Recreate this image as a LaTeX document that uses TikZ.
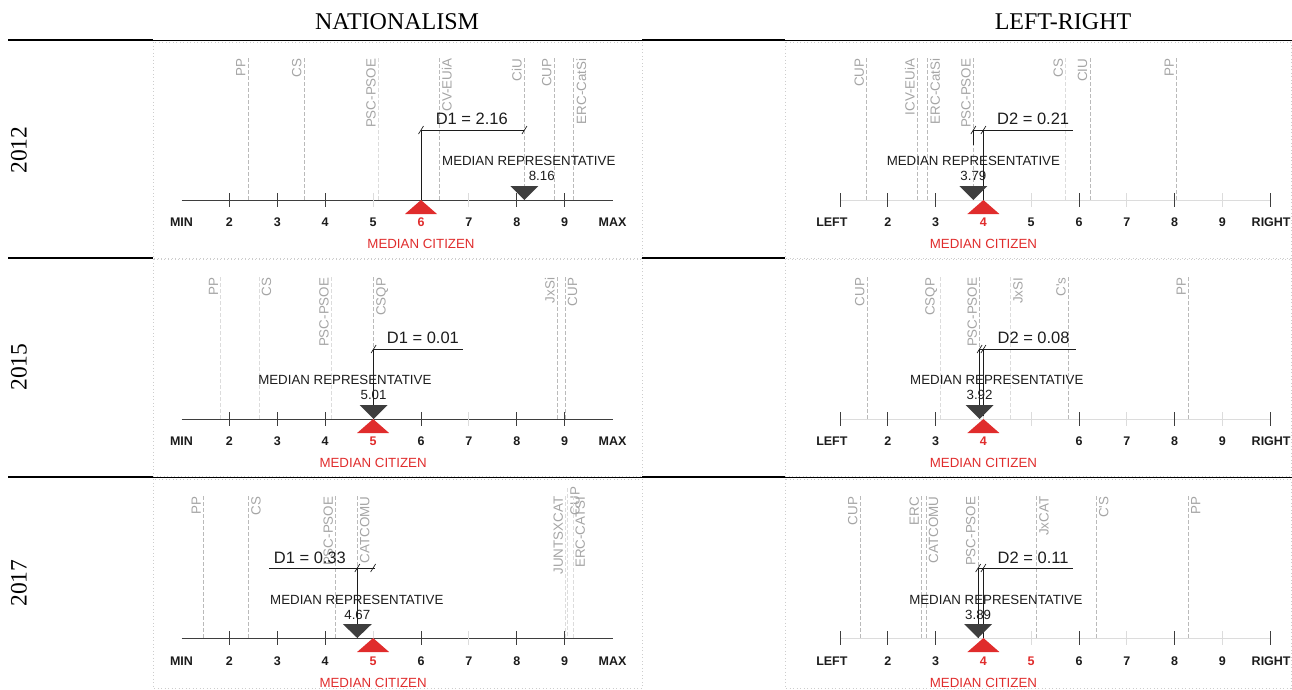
\documentclass[tikz,border=0pt]{standalone}
\usepackage{fontspec}
\setmainfont{Liberation Serif}
\setsansfont{Liberation Sans}
\usepackage{xcolor}
\usepackage{tikz}

\definecolor{citred}{RGB}{224,44,44}
\definecolor{repgray}{RGB}{62,62,62}
\definecolor{inkgray}{RGB}{28,28,28}
\definecolor{labgray}{RGB}{165,165,165}
\definecolor{partygray}{RGB}{186,186,186}
\definecolor{faintgray}{RGB}{220,220,220}
\definecolor{framegray}{RGB}{205,205,205}

\begin{document}
\begin{tikzpicture}[x=1pt,y=-1pt,
  partyline/.style={draw=partygray, dash pattern=on 4pt off 2pt, line width=0.7pt},
  faintline/.style={partyline, draw=faintgray},
  partylab/.style={rotate=90, inner sep=2.5pt, text=labgray, font=\sffamily\fontsize{13.4}{14}\selectfont},
  numlab/.style={inner sep=0pt, text=inkgray, font=\sffamily\bfseries\fontsize{12.5}{13}\selectfont},
  citlab/.style={inner sep=0pt, text=citred, font=\sffamily\fontsize{13.3}{14}\selectfont},
  replab/.style={inner sep=0pt, text=inkgray, font=\sffamily\fontsize{13.3}{14}\selectfont},
  dimlab/.style={inner sep=0pt, text=inkgray, font=\sffamily\fontsize{16.5}{18}\selectfont},
  dimline/.style={draw=inkgray, line width=0.7pt},
  axisline/.style={draw=repgray, line width=0.9pt},
  faintaxis/.style={draw=faintgray, line width=0.9pt},
  tickmark/.style={draw=repgray, line width=0.9pt},
  faintick/.style={draw=faintgray, line width=0.9pt},
  rulethin/.style={draw=black, line width=0.8pt},
  rulethick/.style={draw=black, line width=2.6pt},
  panelframe/.style={draw=framegray, line width=0.6pt, dash pattern=on 1pt off 2.5pt},
  headtitle/.style={inner sep=0pt, font=\fontsize{24}{26}\selectfont},
  yearlab/.style={inner sep=0pt, rotate=90, font=\fontsize{23.5}{26}\selectfont}]

\useasboundingbox (0,0) rectangle (1292,689);

% table frame
\draw[panelframe] (153,42) rectangle (642,258);
\draw[panelframe] (785,42) rectangle (1291,258);
\draw[panelframe] (153,259) rectangle (642,476);
\draw[panelframe] (785,259) rectangle (1291,476);
\draw[panelframe] (153,479) rectangle (642,688);
\draw[panelframe] (785,479) rectangle (1291,688);
\draw[rulethin] (8,40) -- (1292,40);
\draw[rulethin] (8,477) -- (1292,477);
\foreach \ry in {40,258,477} {
  \draw[rulethick] (8,\ry) -- (153,\ry);
  \draw[rulethick] (642,\ry) -- (785,\ry);
}

\node[headtitle] (natTitle) at (397,22) {NATIONALISM};
\node[headtitle] (lrTitle) at (1063,22) {LEFT-RIGHT};
\node[yearlab] (y2012) at (19,150) {2012};
\node[yearlab] (y2015) at (19,367) {2015};
\node[yearlab] (y2017) at (19,583) {2017};

% ---------------- nationalism 2012
\begin{scope}[shift={(133.6,200)}, x=47.9pt]
\draw[partyline] (2.39,-142) -- (2.39,0);
\node[partylab, anchor=south east] (natPP12) at (2.39,-144) {PP};
\draw[partyline] (3.56,-142) -- (3.56,0);
\node[partylab, anchor=south east] (natCS12) at (3.56,-144) {CS};
\draw[faintline] (5.11,-142) -- (5.11,0);
\node[partylab, anchor=south east] (natPSC12) at (5.11,-144) {PSC-PSOE};
\draw[partyline] (6.38,-142) -- (6.38,0);
\node[partylab, anchor=north east] (natICV12) at (6.38,-144) {CV-EUiA};
\draw[partyline] (8.16,-142) -- (8.16,0);
\node[partylab, anchor=south east] (natCiU12) at (8.16,-144) {CiU};
\draw[partyline] (8.78,-142) -- (8.78,0);
\node[partylab, anchor=south east] (natCUP12) at (8.78,-144) {CUP};
\draw[partyline] (9.19,-142) -- (9.19,0);
\node[partylab, anchor=north east] (natERC12) at (9.19,-144) {ERC-CatSi};

\draw[axisline] (1,0) -- (10,0);
\foreach \k in {2,3,4,6,8,9} \draw[tickmark] (\k,-7) -- (\k,7);
\foreach \k in {5,7} \draw[faintick] (\k,-7) -- (\k,7);
\node[numlab] (natMin12) at (1,22.5) {MIN};
\foreach \k in {2,3,4,5,7,8,9} \node[numlab] (natN12\k) at (\k,22.5) {\k};
\node[numlab, text=citred] (natN126) at (6,22.5) {6};
\node[numlab] (natMax12) at (10,22.5) {MAX};
\node[citlab] (natCit12) at (6,44) {MEDIAN CITIZEN};

\node[replab] (natRepVal12) at (8.52,-24) {8.16};
\node[replab] (natRep12) at (8.25,-39) {MEDIAN REPRESENTATIVE};
\coordinate (natDa12) at (6,-70);
\coordinate (natDb12) at (8.16,-70);
\draw[dimline] (6,0) -- (natDa12) -- (natDb12);
\draw[dimline] (natDa12) ++(-2.5pt,-4pt) -- ++(5pt,8pt);
\draw[dimline] (natDb12) ++(-2.5pt,-4pt) -- ++(5pt,8pt);
\node[dimlab] (natD12) at (7.06,-81) {D1 = 2.16};
\fill[repgray] (8.16,0) -- ++(14pt,14pt) -- ++(-28pt,0pt) -- cycle;
\fill[citred] (6,0) -- ++(16pt,-14pt) -- ++(-32pt,0pt) -- cycle;
\end{scope}

% ---------------- nationalism 2015
\begin{scope}[shift={(133.6,419)}, x=47.9pt]
\draw[faintline] (1.82,-142) -- (1.82,0);
\node[partylab, anchor=south east] (natPP15) at (1.82,-144) {PP};
\draw[faintline] (2.62,-142) -- (2.62,0);
\node[partylab, anchor=north east] (natCS15) at (2.62,-144) {CS};
\draw[faintline] (4.13,-142) -- (4.13,0);
\node[partylab, anchor=south east] (natPSC15) at (4.13,-144) {PSC-PSOE};
\draw[partyline] (5.01,-142) -- (5.01,0);
\node[partylab, anchor=north east] (natCSQP15) at (5.01,-144) {CSQP};
\draw[partyline] (8.85,-142) -- (8.85,0);
\node[partylab, anchor=south east] (natJxSi15) at (8.85,-144) {JxSi};
\draw[partyline] (9.01,-142) -- (9.01,0);
\node[partylab, anchor=north east] (natCUP15) at (9.01,-144) {CUP};

\draw[axisline] (1,0) -- (10,0);
\foreach \k in {2,3,4,6,8,9} \draw[tickmark] (\k,-7) -- (\k,7);
\foreach \k in {5,7} \draw[faintick] (\k,-7) -- (\k,7);
\node[numlab] (natMin15) at (1,22.5) {MIN};
\foreach \k in {2,3,4,6,7,8,9} \node[numlab] (natN15\k) at (\k,22.5) {\k};
\node[numlab, text=citred] (natN155) at (5,22.5) {5};
\node[numlab] (natMax15) at (10,22.5) {MAX};
\node[citlab] (natCit15) at (5,44) {MEDIAN CITIZEN};

\node[replab] (natRepVal15) at (5.01,-24) {5.01};
\node[replab] (natRep15) at (4.41,-39) {MEDIAN REPRESENTATIVE};
\coordinate (natDa15) at (5.01,-70);
\coordinate (natDb15) at (6.88,-70);
\draw[dimline] (5.01,0) -- (natDa15) -- (natDb15);
\draw[dimline] (natDa15) ++(-2.5pt,-4pt) -- ++(5pt,8pt);
\node[dimlab] (natD15) at (6.04,-81) {D1 = 0.01};
\fill[repgray] (5.01,0) -- ++(14pt,14pt) -- ++(-28pt,0pt) -- cycle;
\fill[citred] (5,0) -- ++(16pt,-14pt) -- ++(-32pt,0pt) -- cycle;
\end{scope}

% ---------------- nationalism 2017
\begin{scope}[shift={(133.6,638)}, x=47.9pt]
\draw[partyline] (1.46,-142) -- (1.46,0);
\node[partylab, anchor=south east] (natPP17) at (1.46,-144) {PP};
\draw[partyline] (2.40,-142) -- (2.40,0);
\node[partylab, anchor=north east] (natCS17) at (2.40,-144) {CS};
\draw[partyline] (4.22,-142) -- (4.22,0);
\node[partylab, anchor=south east] (natPSC17) at (4.22,-144) {PSC-PSOE};
\draw[partyline] (4.67,-142) -- (4.67,0);
\node[partylab, anchor=north east] (natCAT17) at (4.67,-144) {CATCOMU};
\draw[faintline] (9.02,-142) -- (9.02,0);
\node[partylab, anchor=south east] (natJUNTS17) at (9.02,-144) {JUNTSXCAT};
\draw[faintline] (9.06,-150) -- (9.06,0);
\node[partylab, anchor=north east] (natCUP17) at (9.06,-154) {CUP};
\draw[faintline] (9.17,-142) -- (9.17,0);
\node[partylab, anchor=north east] (natERC17) at (9.17,-144) {ERC-CATSI};

\draw[axisline] (1,0) -- (10,0);
\foreach \k in {2,3,4,6,8,9} \draw[tickmark] (\k,-7) -- (\k,7);
\foreach \k in {5,7} \draw[faintick] (\k,-7) -- (\k,7);
\node[numlab] (natMin17) at (1,23.5) {MIN};
\foreach \k in {2,3,4,6,7,8,9} \node[numlab] (natN17\k) at (\k,23.5) {\k};
\node[numlab, text=citred] (natN175) at (5,23.5) {5};
\node[numlab] (natMax17) at (10,23.5) {MAX};
\node[citlab] (natCit17) at (5,45) {MEDIAN CITIZEN};

\node[replab] (natRepVal17) at (4.67,-23) {4.67};
\node[replab] (natRep17) at (4.66,-38) {MEDIAN REPRESENTATIVE};
\coordinate (natDa17) at (2.83,-70);
\coordinate (natDb17) at (5.04,-70);
\draw[dimline] (4.67,0) -- (4.67,-70);
\draw[dimline] (natDa17) -- (natDb17);
\draw[dimline] (4.67,-70) ++(-2.5pt,-4pt) -- ++(5pt,8pt);
\draw[dimline] (5,-70) ++(-2.5pt,-4pt) -- ++(5pt,8pt);
\node[dimlab] (natD17) at (3.68,-80) {D1 = 0.33};
\fill[repgray] (4.67,0) -- ++(14.5pt,14pt) -- ++(-29pt,0pt) -- cycle;
\fill[citred] (5,0) -- ++(16pt,-14pt) -- ++(-32pt,0pt) -- cycle;
\end{scope}

% ---------------- left-right 2012
\begin{scope}[shift={(792.2,200)}, x=47.8pt]
\draw[partyline] (1.56,-142) -- (1.56,0);
\node[partylab, anchor=south east] (lrCUP12) at (1.56,-144) {CUP};
\draw[partyline] (2.62,-142) -- (2.62,0);
\node[partylab, anchor=south east] (lrICV12) at (2.62,-144) {ICV-EUiA};
\draw[partyline] (2.83,-142) -- (2.83,0);
\node[partylab, anchor=north east] (lrERC12) at (2.83,-144) {ERC-CatSi};
\draw[partyline] (3.79,-142) -- (3.79,0);
\node[partylab, anchor=south east] (lrPSC12) at (3.79,-144) {PSC-PSOE};
\draw[faintline] (5.72,-142) -- (5.72,0);
\node[partylab, anchor=south east] (lrCS12) at (5.72,-144) {CS};
\draw[partyline] (6.23,-142) -- (6.23,0);
\node[partylab, anchor=south east] (lrCiU12) at (6.23,-144) {CIU};
\draw[partyline] (8.04,-142) -- (8.04,0);
\node[partylab, anchor=south east] (lrPP12) at (8.04,-144) {PP};

\draw[faintaxis] (1,0) -- (10,0);
\foreach \k in {1,2,3,6,8,10} \draw[tickmark] (\k,-7) -- (\k,7);
\foreach \k in {4,5,7,9} \draw[faintick] (\k,-7) -- (\k,7);
\node[numlab] (lrLeft12) at (0.83,22.5) {LEFT};
\foreach \k in {2,3,5,6,7,8,9} \node[numlab] (lrN12\k) at (\k,22.5) {\k};
\node[numlab, text=citred] (lrN124) at (4,22.5) {4};
\node[numlab] (lrRight12) at (10.02,22.5) {RIGHT};
\node[citlab] (lrCit12) at (4,44) {MEDIAN CITIZEN};

\node[replab] (lrRepVal12) at (3.79,-24) {3.79};
\node[replab] (lrRep12) at (3.79,-39) {MEDIAN REPRESENTATIVE};
\coordinate (lrDa12) at (3.79,-70);
\coordinate (lrDb12) at (5.88,-70);
\draw[dimline] (3.79,-55) -- (lrDa12) -- (lrDb12);
\draw[dimline] (4,0) -- (4,-70);
\draw[dimline] (lrDa12) ++(-2.5pt,-4pt) -- ++(5pt,8pt);
\draw[dimline] (4,-70) ++(-2.5pt,-4pt) -- ++(5pt,8pt);
\node[dimlab] (lrD12) at (5.04,-81) {D2 = 0.21};
\fill[repgray] (3.79,0) -- ++(14pt,14pt) -- ++(-28pt,0pt) -- cycle;
\fill[citred] (4,0) -- ++(16pt,-14pt) -- ++(-32pt,0pt) -- cycle;
\end{scope}

% ---------------- left-right 2015
\begin{scope}[shift={(792.2,419)}, x=47.8pt]
\draw[partyline] (1.57,-142) -- (1.57,0);
\node[partylab, anchor=south east] (lrCUP15) at (1.57,-144) {CUP};
\draw[faintline] (3.09,-142) -- (3.09,0);
\node[partylab, anchor=south east] (lrCSQP15) at (3.09,-144) {CSQP};
\draw[partyline] (3.92,-142) -- (3.92,0);
\node[partylab, anchor=south east] (lrPSC15) at (3.92,-144) {PSC-PSOE};
\draw[faintline] (4.57,-142) -- (4.57,0);
\node[partylab, anchor=north east] (lrJxSI15) at (4.57,-144) {JxSI};
\draw[partyline] (5.78,-142) -- (5.78,0);
\node[partylab, anchor=south east] (lrCs15) at (5.78,-144) {C\textquotesingle s};
\draw[partyline] (8.29,-142) -- (8.29,0);
\node[partylab, anchor=south east] (lrPP15) at (8.29,-144) {PP};

\draw[faintaxis] (1,0) -- (10,0);
\foreach \k in {1,2,3,6,8,10} \draw[tickmark] (\k,-7) -- (\k,7);
\foreach \k in {4,5,7,9} \draw[faintick] (\k,-7) -- (\k,7);
\node[numlab] (lrLeft15) at (0.83,22.5) {LEFT};
\foreach \k in {2,3,6,7,8,9} \node[numlab] (lrN15\k) at (\k,22.5) {\k};
\node[numlab, text=citred] (lrN154) at (4,22.5) {4};
\node[numlab] (lrRight15) at (10.02,22.5) {RIGHT};
\node[citlab] (lrCit15) at (4,44) {MEDIAN CITIZEN};

\node[replab] (lrRepVal15) at (3.92,-24) {3.92};
\node[replab] (lrRep15) at (4.28,-39) {MEDIAN REPRESENTATIVE};
\coordinate (lrDa15) at (3.92,-70);
\coordinate (lrDb15) at (5.94,-70);
\draw[dimline] (3.92,-3) -- (lrDa15) -- (lrDb15);
\draw[dimline] (4,-3) -- (4,-70);
\draw[dimline] (lrDa15) ++(-2.5pt,-4pt) -- ++(5pt,8pt);
\draw[dimline] (4,-70) ++(-2.5pt,-4pt) -- ++(5pt,8pt);
\node[dimlab] (lrD15) at (5.05,-81) {D2 = 0.08};
\fill[repgray] (3.92,0) -- ++(14pt,14pt) -- ++(-28pt,0pt) -- cycle;
\fill[citred] (4,0) -- ++(16pt,-14pt) -- ++(-32pt,0pt) -- cycle;
\end{scope}

% ---------------- left-right 2017
\begin{scope}[shift={(792.2,638)}, x=47.8pt]
\draw[partyline] (1.42,-142) -- (1.42,0);
\node[partylab, anchor=south east] (lrCUP17) at (1.42,-144) {CUP};
\draw[partyline] (2.71,-142) -- (2.71,0);
\node[partylab, anchor=south east] (lrERC17) at (2.71,-144) {ERC};
\draw[partyline] (2.80,-142) -- (2.80,0);
\node[partylab, anchor=north east] (lrCAT17) at (2.80,-144) {CATCOMU};
\draw[partyline] (3.89,-142) -- (3.89,0);
\node[partylab, anchor=south east] (lrPSC17) at (3.89,-144) {PSC-PSOE};
\draw[partyline] (5.11,-142) -- (5.11,0);
\node[partylab, anchor=north east] (lrJxCAT17) at (5.11,-144) {JxCAT};
\draw[partyline] (6.36,-142) -- (6.36,0);
\node[partylab, anchor=north east] (lrCs17) at (6.36,-144) {C\textquotesingle S};
\draw[partyline] (8.29,-142) -- (8.29,0);
\node[partylab, anchor=north east] (lrPP17) at (8.29,-144) {PP};

\draw[faintaxis] (1,0) -- (10,0);
\foreach \k in {1,2,3,6,8,10} \draw[tickmark] (\k,-7) -- (\k,7);
\foreach \k in {4,5,7,9} \draw[faintick] (\k,-7) -- (\k,7);
\node[numlab] (lrLeft17) at (0.83,23.5) {LEFT};
\foreach \k in {2,3,6,7,8,9} \node[numlab] (lrN17\k) at (\k,23.5) {\k};
\node[numlab, text=citred] (lrN174) at (4,23.5) {4};
\node[numlab, text=citred] (lrN175) at (5,23.5) {5};
\node[numlab] (lrRight17) at (10.02,23.5) {RIGHT};
\node[citlab] (lrCit17) at (4,45) {MEDIAN CITIZEN};

\node[replab] (lrRepVal17) at (3.89,-23) {3.89};
\node[replab] (lrRep17) at (4.26,-38) {MEDIAN REPRESENTATIVE};
\coordinate (lrDa17) at (3.89,-70);
\coordinate (lrDb17) at (5.88,-70);
\draw[dimline] (3.89,0) -- (lrDa17) -- (lrDb17);
\draw[dimline] (4,0) -- (4,-70);
\draw[dimline] (lrDa17) ++(-2.5pt,-4pt) -- ++(5pt,8pt);
\draw[dimline] (4,-70) ++(-2.5pt,-4pt) -- ++(5pt,8pt);
\node[dimlab] (lrD17) at (5.04,-80) {D2 = 0.11};
\fill[repgray] (3.89,0) -- ++(14pt,14pt) -- ++(-28pt,0pt) -- cycle;
\fill[citred] (4,0) -- ++(16pt,-14pt) -- ++(-32pt,0pt) -- cycle;
\end{scope}

\end{tikzpicture}
\end{document}
